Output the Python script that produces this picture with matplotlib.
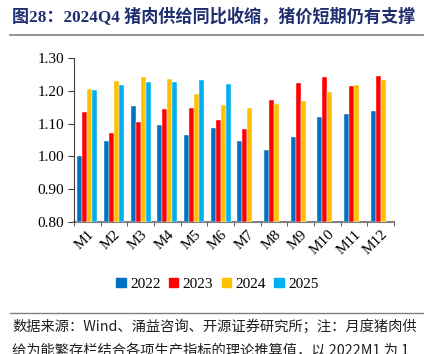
import matplotlib
matplotlib.use("Agg")
import matplotlib.pyplot as plt
import numpy as np
from matplotlib.lines import Line2D

months = ["M1", "M2", "M3", "M4", "M5", "M6", "M7", "M8", "M9", "M10", "M11", "M12"]
years = ["2022", "2023", "2024", "2025"]
v2022 = [1.000, 1.046, 1.153, 1.095, 1.066, 1.088, 1.046, 1.019, 1.059, 1.120, 1.128, 1.139]
v2023 = [1.135, 1.070, 1.104, 1.144, 1.147, 1.110, 1.083, 1.171, 1.224, 1.243, 1.215, 1.246]
v2024 = [1.206, 1.231, 1.242, 1.237, 1.191, 1.157, 1.149, 1.160, 1.169, 1.196, 1.218, 1.232]
v2025 = [1.204, 1.218, 1.227, 1.227, 1.233, 1.222]
yticks = [0.80, 0.90, 1.00, 1.10, 1.20, 1.30]
colors = ["#0070C0", "#FF0000", "#FFC000", "#00B0F0"]

title = "图28：2024Q4 猪肉供给同比收缩，猪价短期仍有支撑"
note1 = "数据来源：Wind、涌益咨询、开源证券研究所；注：月度猪肉供"
note2 = "给为能繁存栏结合各项生产指标的理论推算值，以 2022M1 为 1"

serif = ["Liberation Serif", "Noto Sans CJK SC"]
cjk = ["Noto Sans CJK SC", "Liberation Serif"]

fig = plt.figure(figsize=(4.35, 3.54), dpi=100)
ax = fig.add_axes([0.170, 0.373, 0.736, 0.463])

series = [v2022, v2023, v2024, v2025]
bw = 0.19
for i, (vals, c, lab) in enumerate(zip(series, colors, years)):
    x = np.arange(len(vals)) + (i - 1.5) * bw
    ax.bar(x, np.array(vals) - 0.8, bottom=0.8, width=bw, color=c,
           edgecolor="white", linewidth=0.3, label=lab, zorder=3)

ax.set_xlim(-0.5, len(months) - 0.5)
ax.set_ylim(0.80, 1.30)
ax.set_yticks(yticks)
ax.set_yticklabels([f"{t:.2f}" for t in yticks], fontfamily=serif, fontsize=11)
ax.set_xticks(np.arange(len(months)))
ax.set_xticklabels(months, rotation=45, ha="right", va="top",
                   rotation_mode="anchor", fontfamily=serif, fontsize=11)
ax.tick_params(axis="x", length=0, pad=4)
ax.set_xticks(np.arange(len(months) + 1) - 0.5, minor=True)
ax.tick_params(axis="x", which="minor", length=3, direction="out", color="#404040")
ax.tick_params(axis="y", length=4, direction="out", color="#404040", pad=3)
for s in ["top", "right"]:
    ax.spines[s].set_visible(False)
ax.spines["left"].set_color("#404040")
ax.spines["bottom"].set_color("#7f7f7f")
ax.spines["bottom"].set_linewidth(1.5)
ax.spines["bottom"].set_zorder(2)

handles = [plt.Rectangle((0, 0), 1, 1, color=c) for c in colors]
fig.legend(handles, years, loc="center", bbox_to_anchor=(0.50, 0.197), ncol=4,
           frameon=False, prop={"family": serif, "size": 11},
           handlelength=0.6, handleheight=0.6, handletextpad=0.3, columnspacing=0.55)

fig.text(0.028, 0.952, title, fontsize=12.3, fontweight="bold", color="#1F2E6E",
         family=serif, ha="left", va="center")
fig.add_artist(Line2D([0.023, 0.972], [0.901, 0.901], color="#808080", linewidth=1.2))
fig.add_artist(Line2D([0.023, 0.972], [0.116, 0.116], color="#808080", linewidth=1.0))
fig.text(0.028, 0.077, note1, fontsize=10.3, color="#202020", family=cjk,
         ha="left", va="center")
fig.text(0.028, 0.008, note2, fontsize=10.3, color="#202020", family=cjk,
         ha="left", va="center")

fig.savefig("out.png", dpi=100)
